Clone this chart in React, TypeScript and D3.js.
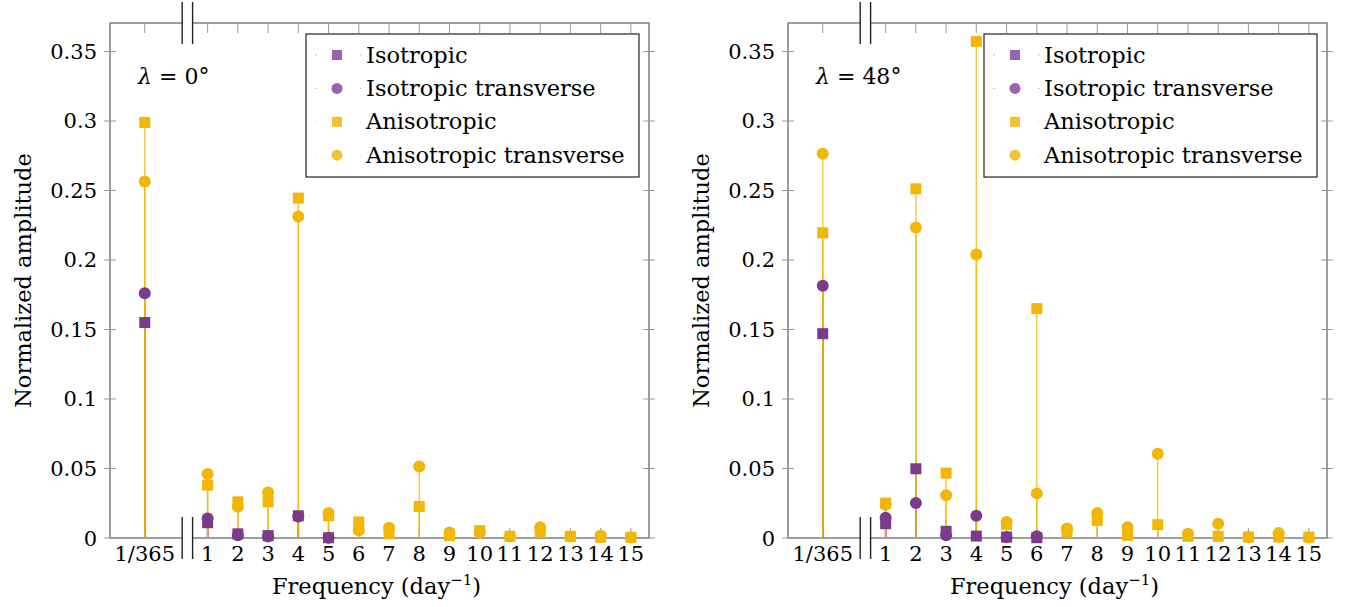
import React, { useEffect } from 'react';
import * as d3 from 'd3';

// frequency categories (first one sits left of the axis break)
const freqLabels = ['1/365', '1', '2', '3', '4', '5', '6', '7', '8', '9', '10', '11', '12', '13', '14', '15'];
const yTicks = [0, 0.05, 0.1, 0.15, 0.2, 0.25, 0.3, 0.35];
const yTickLabels = ['0', '0.05', '0.1', '0.15', '0.2', '0.25', '0.3', '0.35'];
const seriesNames = ['Isotropic', 'Isotropic transverse', 'Anisotropic', 'Anisotropic transverse'];

// lambda = 0 deg (null = not plotted)
const isoSq0 = [0.155, 0.011, 0.003, 0.0017, 0.016, 0.0002, null, null, null, null, null, null, null, null, null, null];
const isoCi0 = [0.176, 0.014, 0.002, 0.001, 0.0155, 0.0001, null, null, null, null, null, null, null, null, null, null];
const anSq0 = [0.299, 0.038, 0.026, 0.026, 0.2445, 0.016, 0.0115, 0.003, 0.0227, 0.0017, 0.0053, 0.0012, 0.004, 0.0012, 0.0005, 0.0005];
const anCi0 = [0.2565, 0.046, 0.0225, 0.0328, 0.2313, 0.018, 0.0055, 0.0073, 0.0515, 0.004, 0.004, 0.001, 0.0077, 0.001, 0.0017, 0.0003];

// lambda = 48 deg
const isoSq48 = [0.147, 0.0103, 0.0498, 0.0048, 0.0014, 0.0007, 0.0002, null, null, null, null, null, null, null, null, null];
const isoCi48 = [0.1815, 0.0146, 0.0251, 0.0019, 0.016, 0.0005, 0.0012, null, null, null, null, null, null, null, null, null];
const anSq48 = [0.2196, 0.0251, 0.2512, 0.0467, 0.3573, 0.0098, 0.165, 0.0038, 0.0127, 0.0019, 0.0096, 0.0012, 0.0012, 0.0007, 0.0007, 0.0007];
const anCi48 = [0.2764, 0.024, 0.2234, 0.0307, 0.204, 0.0115, 0.0321, 0.0069, 0.018, 0.0077, 0.0606, 0.003, 0.0103, 0.0005, 0.0036, 0.0003];

const PURPLE = '#7b3b8b';
const YELLOW = '#f2b705';
const AXIS = '#6a6a6a';
const TICK = '#9a9a9a';
const FONT = 'DejaVu Serif';

const W = 539;
const TOP = 23;
const BOTTOM = 538;
const YEAR_POS = -1.08; // where 1/365 sits on the shifted axis
const BREAK_POS = 0.33;

const Panel = ({ x0, lambda, isoSq, isoCi, anSq, anCi }) => {
  const xs = d3.scaleLinear().domain([-2.23, 15.6]).range([x0, x0 + W]);
  const ys = d3.scaleLinear().domain([0, 0.3705]).range([BOTTOM, TOP]);
  const px = (i) => (i === 0 ? xs(YEAR_POS) : xs(i));
  const right = x0 + W;
  const bx = xs(BREAK_POS);

  const pts = (arr) => arr.map((v, i) => ({ v, i })).filter((d) => d.v !== null);

  const stems = [
    { v: isoSq, c: PURPLE, o: 1 },
    { v: isoCi, c: PURPLE, o: 1 },
    { v: anSq, c: YELLOW, o: 0.75 },
    { v: anCi, c: YELLOW, o: 0.75 },
  ];

  const sq = 11;
  const r = 6;

  const legX = right - 343;
  const legend = [
    { c: '#9b62ad', shape: 'sq' },
    { c: '#9b62ad', shape: 'ci' },
    { c: '#f4c132', shape: 'sq' },
    { c: '#f4c132', shape: 'ci' },
  ];

  return (
    <g>
      {/* axis box */}
      <rect x={x0} y={TOP} width={W} height={BOTTOM - TOP} fill="none" stroke={AXIS} strokeWidth={1.3} />

      {/* y ticks both sides */}
      {yTicks.map((t, i) => (
        <g key={'yt' + i}>
          <line x1={x0 - 6} x2={x0 + 6} y1={ys(t)} y2={ys(t)} stroke={TICK} strokeWidth={1} />
          <line x1={right - 6} x2={right + 6} y1={ys(t)} y2={ys(t)} stroke={TICK} strokeWidth={1} />
          <text x={x0 - 13} y={ys(t) + 7.5} textAnchor="end" fontFamily={FONT} fontSize={21}>
            {yTickLabels[i]}
          </text>
        </g>
      ))}

      {/* x ticks top and bottom */}
      {freqLabels.map((lab, i) => (
        <g key={'xt' + i}>
          <line x1={px(i)} x2={px(i)} y1={TOP} y2={TOP + 10} stroke={TICK} strokeWidth={1} />
          <line x1={px(i)} x2={px(i)} y1={BOTTOM} y2={BOTTOM - 10} stroke={TICK} strokeWidth={1} />
          <text x={px(i)} y={BOTTOM + 23} textAnchor="middle" fontFamily={FONT} fontSize={21}>
            {lab}
          </text>
        </g>
      ))}

      {/* stems */}
      {stems.map((s, k) =>
        pts(s.v).map((d) => (
          <line
            key={'st' + k + '-' + d.i}
            x1={px(d.i)}
            x2={px(d.i)}
            y1={ys(0)}
            y2={ys(d.v)}
            stroke={s.c}
            strokeOpacity={s.o}
            strokeWidth={1.5}
          />
        ))
      )}

      {/* markers */}
      {pts(isoCi).map((d) => (
        <circle key={'ic' + d.i} cx={px(d.i)} cy={ys(d.v)} r={r} fill={PURPLE} />
      ))}
      {pts(isoSq).map((d) => (
        <rect key={'is' + d.i} x={px(d.i) - sq / 2} y={ys(d.v) - sq / 2} width={sq} height={sq} fill={PURPLE} />
      ))}
      {pts(anCi).map((d) => (
        <circle key={'ac' + d.i} cx={px(d.i)} cy={ys(d.v)} r={r} fill={YELLOW} />
      ))}
      {pts(anSq).map((d) => (
        <rect key={'as' + d.i} x={px(d.i) - sq / 2} y={ys(d.v) - sq / 2} width={sq} height={sq} fill={YELLOW} />
      ))}

      {/* axis break */}
      <rect x={bx - 5} y={TOP - 3} width={10} height={6} fill="white" />
      <rect x={bx - 5} y={BOTTOM - 3} width={10} height={6} fill="white" />
      {[TOP, BOTTOM].map((yy) => (
        <g key={'br' + yy}>
          <line x1={bx - 5.2} x2={bx - 5.2} y1={yy - 21} y2={yy + 21} stroke="#222" strokeWidth={1.4} />
          <line x1={bx + 5.2} x2={bx + 5.2} y1={yy - 21} y2={yy + 21} stroke="#222" strokeWidth={1.4} />
        </g>
      ))}

      {/* lambda annotation */}
      <text x={x0 + 28} y={84} fontFamily={FONT} fontSize={22}>
        <tspan fontStyle="italic">λ</tspan> = {lambda}°
      </text>

      {/* legend */}
      <rect x={legX} y={34} width={333} height={143} fill="white" stroke="#222" strokeWidth={1.2} />
      {legend.map((l, i) => {
        const cy = 55 + i * 33.4;
        return (
          <g key={'lg' + i}>
            <circle cx={legX + 10} cy={cy} r={0.7} fill={l.c} opacity={0.6} />
            <circle cx={legX + 55} cy={cy} r={0.7} fill={l.c} opacity={0.6} />
            {l.shape === 'sq' ? (
              <rect x={legX + 31 - 5} y={cy - 5} width={10} height={10} fill={l.c} />
            ) : (
              <circle cx={legX + 31} cy={cy} r={5.5} fill={l.c} />
            )}
            <text x={legX + 60} y={cy + 7.5} fontFamily={FONT} fontSize={22.5}>
              {seriesNames[i]}
            </text>
          </g>
        );
      })}

      {/* axis labels */}
      <text
        transform={`translate(${x0 - 79},${(TOP + BOTTOM) / 2}) rotate(-90)`}
        textAnchor="middle"
        fontFamily={FONT}
        fontSize={22.5}
      >
        Normalized amplitude
      </text>
      <text x={x0 + W / 2 - 3} y={BOTTOM + 56} textAnchor="middle" fontFamily={FONT} fontSize={22.5}>
        Frequency (day<tspan dy={-9} fontSize={15}>−1</tspan>
        <tspan dy={9}>)</tspan>
      </text>
    </g>
  );
};

export default function App() {
  useEffect(() => {
    document.body.style.margin = '0';
  }, []);

  return (
    <svg width={1347} height={607} style={{ display: 'block', background: 'white' }}>
      <Panel x0={110} lambda="0" isoSq={isoSq0} isoCi={isoCi0} anSq={anSq0} anCi={anCi0} />
      <Panel x0={788} lambda="48" isoSq={isoSq48} isoCi={isoCi48} anSq={anSq48} anCi={anCi48} />
    </svg>
  );
}
